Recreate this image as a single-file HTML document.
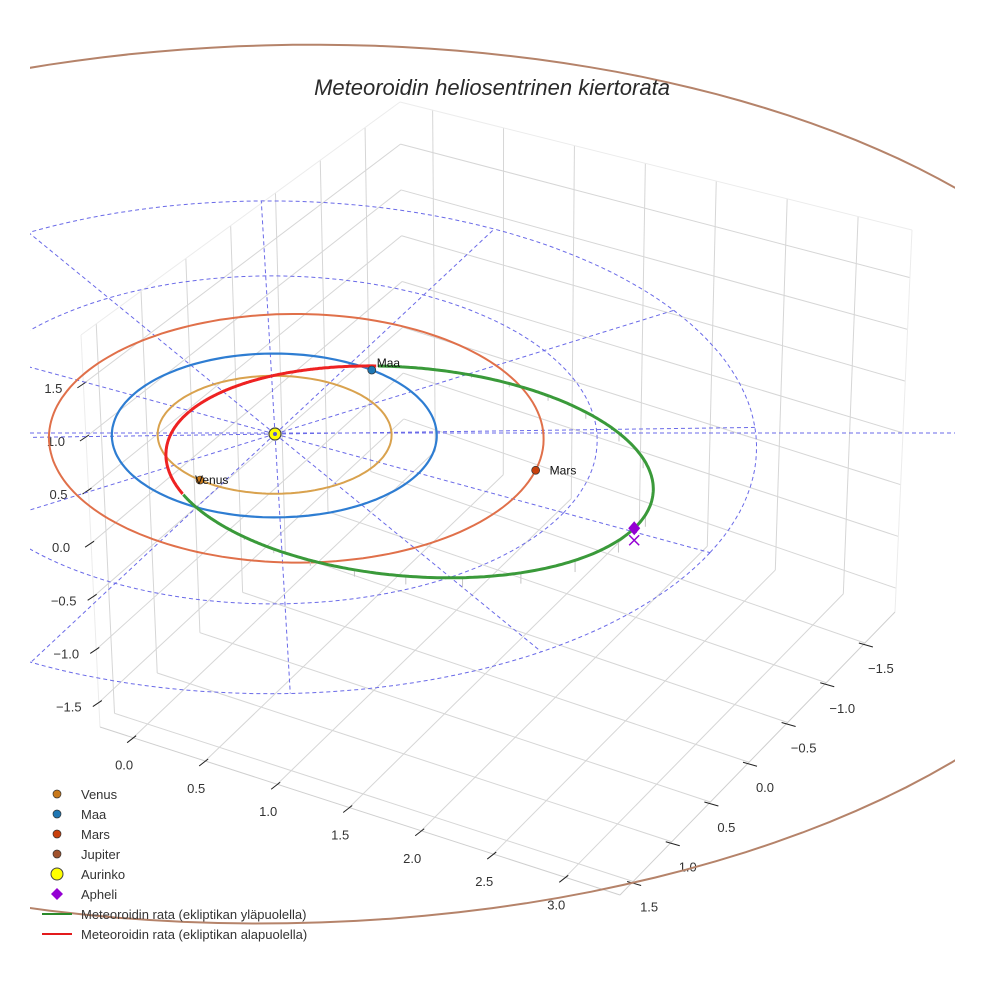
<!DOCTYPE html>
<html><head><meta charset="utf-8"><style>
html,body{margin:0;padding:0;background:#fff;}
svg{display:block;font-family:"Liberation Sans",Arial,sans-serif;}
</style></head><body>
<svg id="chart" width="984" height="984" viewBox="0 0 984 984">
<defs><clipPath id="sceneClip"><rect x="30" y="0" width="925" height="984"/></clipPath></defs>
<rect x="0" y="0" width="984" height="984" fill="#fff"/>
<g id="grid"></g>
<g id="axes"></g>
<g id="data" clip-path="url(#sceneClip)"></g>
<text x="492" y="95" text-anchor="middle" font-size="22" font-style="italic" fill="#2a2a2a">Meteoroidin heliosentrinen kiertorata</text>
<g id="legend"></g>
</svg>
<script>
// ---- data ----
var xTicks = [0.0, 0.5, 1.0, 1.5, 2.0, 2.5, 3.0];
var yTicks = [-1.5, -1.0, -0.5, 0.0, 0.5, 1.0, 1.5];
var zTicks = [-1.5, -1.0, -0.5, 0.0, 0.5, 1.0, 1.5];
var planetNames = ["Venus", "Maa", "Mars", "Jupiter"];
var planetA = [0.72, 1.0, 1.524, 5.4];
var planetE = [0.0, 0.0, 0.093, 0.041];
var planetPeri = [0, 0, 156, 177];
var planetInc = [0, 0, 0, 1.8];
var planetNode = [0, 0, 0, -90];
var planetAngle = [101, -81, -13, 60];
var refCircles = [1, 2, 3];
var radialAngles = [0, 30, 60, 90, 120, 150, 180, 210, 240, 270, 300, 330];
var radialLength = [3, 3, 3, 3, 3, 3, 3, 3, 3, 3, 3, 3];
var meteorA = [1.57];
var meteorE = [0.61];
var meteorInc = [2.7];
var meteorPeri = [182];
var meteorNode = [-81];
var xRange = [-0.23, 3.38], yRange = [-1.89, 1.67], zRange = [-1.73, 1.96];

var NS = "http://www.w3.org/2000/svg";
function mk(tag, attrs, parent){var e=document.createElementNS(NS,tag);for(var k in attrs)e.setAttribute(k,attrs[k]);parent.appendChild(e);return e;}
var F = {b:[404,440], l:[100,727], fr:[620,895], rb:[895,612]};
var T = {b:[400,102], l:[81,335], fr:[627,475], rb:[912,230]};
function bil(C,u,v){
  var lx=C.b[0]+(C.l[0]-C.b[0])*v, ly=C.b[1]+(C.l[1]-C.b[1])*v;
  var rx=C.rb[0]+(C.fr[0]-C.rb[0])*v, ry=C.rb[1]+(C.fr[1]-C.rb[1])*v;
  return [lx+(rx-lx)*u, ly+(ry-ly)*u];}
function boxP(x,y,z){
  var u=(x-xRange[0])/(xRange[1]-xRange[0]), v=(y-yRange[0])/(yRange[1]-yRange[0]), w=(z-zRange[0])/(zRange[1]-zRange[0]);
  var a=bil(F,u,v), b=bil(T,u,v); return [a[0]+(b[0]-a[0])*w, a[1]+(b[1]-a[1])*w];}
function proj(X,Y,Z){var d=0.25*X+0.97*Y, f=1/(1-0.0185*d);
  return [275+f*(143*X-77*Y), 434+f*(39*X+72*Y-100*Z)];}

var grid=document.getElementById('grid');
function gl(p,q,col,name){var l=mk('line',{x1:p[0],y1:p[1],x2:q[0],y2:q[1],stroke:col,'stroke-width':1},grid);
  
  }
var gc="#d6d6d6";
xTicks.forEach(function(x){
  gl(boxP(x,yRange[0],zRange[0]),boxP(x,yRange[1],zRange[0]),gc,'floor-gridline-x');
  gl(boxP(x,yRange[0],zRange[0]),boxP(x,yRange[0],zRange[1]),gc,'back-wall-gridline-x');});
yTicks.forEach(function(y){
  gl(boxP(xRange[0],y,zRange[0]),boxP(xRange[1],y,zRange[0]),gc,'floor-gridline-y');
  gl(boxP(xRange[0],y,zRange[0]),boxP(xRange[0],y,zRange[1]),gc,'side-wall-gridline-y');});
zTicks.forEach(function(z){
  gl(boxP(xRange[0],yRange[0],z),boxP(xRange[1],yRange[0],z),gc,'back-wall-gridline-z');
  gl(boxP(xRange[0],yRange[0],z),boxP(xRange[0],yRange[1],z),gc,'side-wall-gridline-z');});
var ec="#ececec";
gl(boxP(xRange[0],yRange[0],zRange[1]),boxP(xRange[1],yRange[0],zRange[1]),ec,'box-edge');
gl(boxP(xRange[0],yRange[0],zRange[1]),boxP(xRange[0],yRange[1],zRange[1]),ec,'box-edge');
gl(boxP(xRange[1],yRange[0],zRange[0]),boxP(xRange[1],yRange[0],zRange[1]),ec,'box-edge');
gl(boxP(xRange[0],yRange[1],zRange[0]),boxP(xRange[0],yRange[1],zRange[1]),ec,'box-edge');
gl(boxP(xRange[0],yRange[1],zRange[0]),boxP(xRange[1],yRange[1],zRange[0]),"#cfcfcf",'x-axis-line');
gl(boxP(xRange[1],yRange[0],zRange[0]),boxP(xRange[1],yRange[1],zRange[0]),"#cfcfcf",'y-axis-line');

var axes=document.getElementById('axes');
function fmt(v){return (v<0?"\u2212":"")+Math.abs(v).toFixed(1);}
function tick(P,d1,d2,lab,lo,name){
  var l=mk('line',{x1:P[0]+d1[0],y1:P[1]+d1[1],x2:P[0]+d2[0],y2:P[1]+d2[1],stroke:'#222','stroke-width':1},axes);
  
  
  var t=mk('text',{x:P[0]+lo[0],y:P[1]+lo[1]+5,'text-anchor':'middle','font-size':13,fill:'#333'},axes);
  t.textContent=lab;
  
  }
xTicks.forEach(function(x){tick(boxP(x,yRange[1],zRange[0]),[-6,5],[3,-2],fmt(x),[-9,27],'x-axis');});
yTicks.forEach(function(y){tick(boxP(xRange[1],y,zRange[0]),[-6,0],[8,4],fmt(y),[16,25],'y-axis');});
zTicks.forEach(function(z){tick(boxP(xRange[0],yRange[1],z),[-6,4],[3,-2],fmt(z),[-30,4],'z-axis');});

var data=document.getElementById('data');
function pathFrom(pts){return pts.map(function(p,i){return (i?'L':'M')+p[0].toFixed(1)+' '+p[1].toFixed(1);}).join(' ');}
function orbitPts(a,e,peri,inc,node){inc=inc||0;node=node||0;var pts=[];for(var k=0;k<=360;k+=2){var nu=k*Math.PI/180,r=a*(1-e*e)/(1+e*Math.cos(nu)),ph=nu+peri*Math.PI/180;var Z=r*Math.sin(inc*Math.PI/180)*Math.sin(ph-node*Math.PI/180);pts.push(proj(r*Math.cos(ph),r*Math.sin(ph),Z));}return pts;}
function planetPos(i){var ph=planetAngle[i]*Math.PI/180,nu=ph-planetPeri[i]*Math.PI/180,a=planetA[i],e=planetE[i];var r=a*(1-e*e)/(1+e*Math.cos(nu));return proj(r*Math.cos(ph),r*Math.sin(ph),0);}
refCircles.forEach(function(r){var p=mk('path',{d:pathFrom(orbitPts(r,0,0))+'Z',fill:'none',stroke:'#6a6ae8','stroke-width':1,'stroke-dasharray':'4,3'},data);
  
  });
radialAngles.forEach(function(ang,i){var ph=ang*Math.PI/180,L=radialLength[i];var p=proj(0,0,0),q=proj(L*Math.cos(ph),L*Math.sin(ph),0);
  var l=mk('line',{x1:p[0],y1:p[1],x2:q[0],y2:q[1],stroke:'#6a6ae8','stroke-width':1,'stroke-dasharray':'4,3'},data);
  
  });
var hl=mk('line',{x1:30,y1:433,x2:955,y2:433,stroke:'#6a6ae8','stroke-width':1,'stroke-dasharray':'4,3'},data);


var orbCol=["#d9a24e","#2e7dd2","#e0704a","#b5836a"];
var orbW=[2,2.2,2,2];
planetA.forEach(function(a,i){var p=mk('path',{d:pathFrom(orbitPts(a,planetE[i],planetPeri[i],planetInc[i],planetNode[i]))+'Z',fill:'none',stroke:orbCol[i],'stroke-width':orbW[i]},data);
  
  });
var mA=meteorA[0],mE=meteorE[0],inc=meteorInc[0]*Math.PI/180,mP=meteorPeri[0]*Math.PI/180,mN=meteorNode[0]*Math.PI/180;
function mPos(nu){var r=mA*(1-mE*mE)/(1+mE*Math.cos(nu)),ph=nu+mP;var X=r*Math.cos(ph),Y=r*Math.sin(ph),Z=r*Math.sin(inc)*Math.sin(ph-mN);return [X,Y,Z];}
var segG=[],segR=[],stalks=[];
for(var k=0;k<=720;k++){var nu=k*Math.PI/360,P=mPos(nu);var s=proj(P[0],P[1],P[2]);
  if(P[2]>=-1e-4)segG.push({k:k,s:s});else segR.push({k:k,s:s});
  if(k%16==0&&P[2]>0.02)stalks.push([s,proj(P[0],P[1],0)]);}
stalks.forEach(function(st){var l=mk('line',{x1:st[0][0],y1:st[0][1],x2:st[1][0],y2:st[1][1],stroke:'#c4c4c4','stroke-width':1},data);
  
  });
function splitRuns(arr){var runs=[],cur=[];arr.forEach(function(o,i){if(i&&o.k!==arr[i-1].k+1){runs.push(cur);cur=[];}cur.push(o.s);});if(cur.length)runs.push(cur);return runs;}
splitRuns(segR).forEach(function(run){var p=mk('path',{d:pathFrom(run),fill:'none',stroke:'#ee2222','stroke-width':3},data);
  
  });
splitRuns(segG).forEach(function(run){var p=mk('path',{d:pathFrom(run),fill:'none',stroke:'#3a9a3a','stroke-width':3},data);
  
  });
var AP=mPos(Math.PI),aps=proj(AP[0],AP[1],AP[2]),apg=proj(AP[0],AP[1],0);
var cx=mk('path',{d:'M'+(apg[0]-5)+' '+(apg[1]-5)+'L'+(apg[0]+5)+' '+(apg[1]+5)+'M'+(apg[0]+5)+' '+(apg[1]-5)+'L'+(apg[0]-5)+' '+(apg[1]+5),stroke:'#9400d3','stroke-width':1.5,fill:'none'},data);


var dm=mk('path',{d:'M'+aps[0]+' '+(aps[1]-7)+'L'+(aps[0]+6)+' '+aps[1]+'L'+aps[0]+' '+(aps[1]+7)+'L'+(aps[0]-6)+' '+aps[1]+'Z',fill:'#9400d3'},data);


var sp=proj(0,0,0);
var sun=mk('circle',{cx:sp[0],cy:sp[1],r:6,fill:'#ffff00',stroke:'#444','stroke-width':1.2},data);


var sunc=mk('circle',{cx:sp[0],cy:sp[1],r:2,fill:'#5a5ad0'},data);


var pCol=["#c8781a","#1f77b4","#c8400c","#a0522d"];
planetNames.forEach(function(nm,i){if(i==3)return;var p=planetPos(i);
  var c=mk('circle',{cx:p[0],cy:p[1],r:4,fill:pCol[i],stroke:'#333','stroke-width':0.7},data);
  
  
  var t=mk('text',{x:p[0]+(i==0?-5:i==1?5:14),y:p[1]+(i==1?-3:4),'font-size':12,fill:'#111'},data);
  t.textContent=nm;
  
  });

var lg=document.getElementById('legend');
var legendLabels=["Venus","Maa","Mars","Jupiter","Aurinko","Apheli","Meteoroidin rata (ekliptikan yläpuolella)","Meteoroidin rata (ekliptikan alapuolella)"];
legendLabels.forEach(function(lab,i){var y=794+i*20;var g=mk('g',{},lg);
  
  
  if(i<4)mk('circle',{cx:57,cy:y,r:4,fill:pCol[i],stroke:'#333','stroke-width':0.7},g);
  else if(i==4)mk('circle',{cx:57,cy:y,r:6,fill:'#ffff00',stroke:'#444','stroke-width':1},g);
  else if(i==5)mk('path',{d:'M57 '+(y-6)+'L63 '+y+'L57 '+(y+6)+'L51 '+y+'Z',fill:'#9400d3'},g);
  else mk('line',{x1:42,y1:y,x2:72,y2:y,stroke:i==6?'#2a8a2a':'#e31a1c','stroke-width':2},g);
  var t=mk('text',{x:81,y:y+5,'font-size':13,fill:'#333'},g);t.textContent=lab;});
</script>
</body></html>
